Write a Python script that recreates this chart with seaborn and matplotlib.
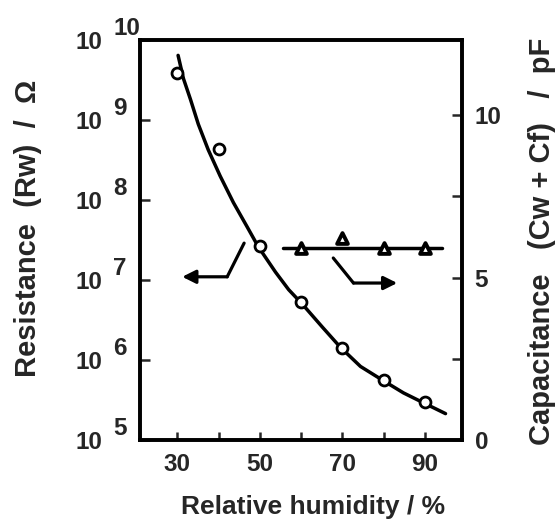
import matplotlib
matplotlib.use("Agg")
import matplotlib.pyplot as plt
import seaborn as sns
import pandas as pd
from matplotlib.transforms import offset_copy

# measured resistance (circles)
humidity = [30, 40, 50, 60, 70, 80, 90]
resistance = [3.9e9, 4.4e8, 2.7e7, 5.3e6, 1.4e6, 5.6e5, 3.0e5]

# hand-drawn fit curve through the resistance points
fit_humidity = [30.2, 31.5, 33.2, 35.1, 37.5, 40.4, 43.6, 47.0, 49.6, 53.8,
                57.0, 60.3, 65.2, 69.5, 74.4, 79.7, 84.8, 89.9, 95.0]
fit_resistance = [6.46e9, 3.31e9, 1.82e9, 8.91e8, 4.27e8, 2.0e8, 9.33e7, 4.57e7,
                  2.63e7, 1.26e7, 7.59e6, 5.01e6, 2.57e6, 1.45e6, 8.32e5,
                  5.62e5, 3.89e5, 2.88e5, 2.14e5]

# capacitance (triangles) and its flat line
cap_humidity = [60, 70, 80, 90]
capacitance = [5.9, 6.2, 5.9, 5.9]
cap_line_humidity = [55.5, 94.2]
cap_line_value = [5.9, 5.9]

x_ticks = [30, 40, 50, 60, 70, 80, 90]
x_ticklabels = ["30", "", "50", "", "70", "", "90"]
res_exponents = [5, 6, 7, 8, 9, 10]
cap_ticks = [0, 2.5, 5, 7.5, 10]
cap_ticklabels = ["0", "", "5", "", "10"]

sns.set_style("ticks")
plt.rcParams["font.family"] = ["Liberation Sans", "DejaVu Sans"]
plt.rcParams["font.weight"] = "bold"
plt.rcParams["axes.labelweight"] = "bold"

fig = plt.figure(figsize=(5.56, 5.22), dpi=100)
ax = fig.add_axes([0.252, 0.157, 0.579, 0.766])
ax.set_yscale("log")
ax2 = ax.twinx()

df_fit = pd.DataFrame({"rh": fit_humidity, "r": fit_resistance})
df_res = pd.DataFrame({"rh": humidity, "r": resistance})
df_cap = pd.DataFrame({"rh": cap_humidity, "c": capacitance})
df_cap_line = pd.DataFrame({"rh": cap_line_humidity, "c": cap_line_value})

sns.lineplot(data=df_fit, x="rh", y="r", ax=ax, color="black", lw=2.5,
             sort=False, estimator=None)
sns.scatterplot(data=df_res, x="rh", y="r", ax=ax, marker="o", s=62,
                facecolor="white", edgecolor="black", linewidth=2.0, zorder=3)
sns.lineplot(data=df_cap_line, x="rh", y="c", ax=ax2, color="black", lw=2.5,
             sort=False, estimator=None)
sns.scatterplot(data=df_cap, x="rh", y="c", ax=ax2, marker="^", s=60,
                facecolor="white", edgecolor="black", linewidth=2.8, zorder=3)

ax.set_xlim(21, 99)
ax.set_ylim(1e5, 1e10)
ax2.set_ylim(0, 12.3)

# left axis: "10" as tick label, exponent as raised text
ax.set_yticks([10.0 ** e for e in res_exponents])
ax.set_yticklabels(["10"] * len(res_exponents))
ax.yaxis.set_minor_locator(plt.NullLocator())
exp_tr = offset_copy(ax.get_yaxis_transform(), fig=fig, x=-27, y=12, units="dots")
for e in res_exponents:
    ax.text(0, 10.0 ** e, str(e), transform=exp_tr, ha="left", va="center",
            fontsize=17.5)

ax.set_xticks(x_ticks)
ax.set_xticklabels(x_ticklabels)
ax2.set_yticks(cap_ticks)
ax2.set_yticklabels(cap_ticklabels)

ax.tick_params(axis="y", direction="in", length=7, width=1.8, pad=27,
               labelsize=17.5, right=False)
ax.tick_params(axis="x", direction="in", length=6, width=1.8, pad=9,
               labelsize=17.5, top=False)
ax2.tick_params(axis="y", direction="in", length=7, width=1.8, pad=9,
                labelsize=17.5)

for a in (ax, ax2):
    for sp in a.spines.values():
        sp.set_visible(True)
        sp.set_linewidth(2.6)
        sp.set_color("black")

ax.set_xlabel("Relative humidity / %", fontsize=19)
ax.xaxis.set_label_coords(0.537, -0.138)
ax.set_ylabel("Resistance  (Rw)  /  Ω", fontsize=21, va="center")
ax.yaxis.set_label_coords(-0.348, 0.53)
ax2.set_ylabel("Capacitance   (Cw + Cf)   /  pF", fontsize=21, va="center",
               rotation=90)
ax2.yaxis.set_label_coords(1.248, 0.4975)

# arrows telling which axis each curve belongs to
arrow_style = "-|>,head_length=0.8,head_width=0.4"
ax.plot([42.1, 46.2], [1.1e7, 2.9e7], color="black", lw=2.3)
ax.annotate("", xy=(31.2, 1.1e7), xytext=(42.1, 1.1e7),
            arrowprops=dict(arrowstyle=arrow_style, color="black", lw=2.3,
                            shrinkA=0, shrinkB=0))
ax2.plot([67.8, 72.7], [5.6, 4.83], color="black", lw=2.3)
ax2.annotate("", xy=(83.3, 4.83), xytext=(72.7, 4.83),
             arrowprops=dict(arrowstyle=arrow_style, color="black", lw=2.3,
                             shrinkA=0, shrinkB=0))

fig.savefig("out.png", dpi=100)
